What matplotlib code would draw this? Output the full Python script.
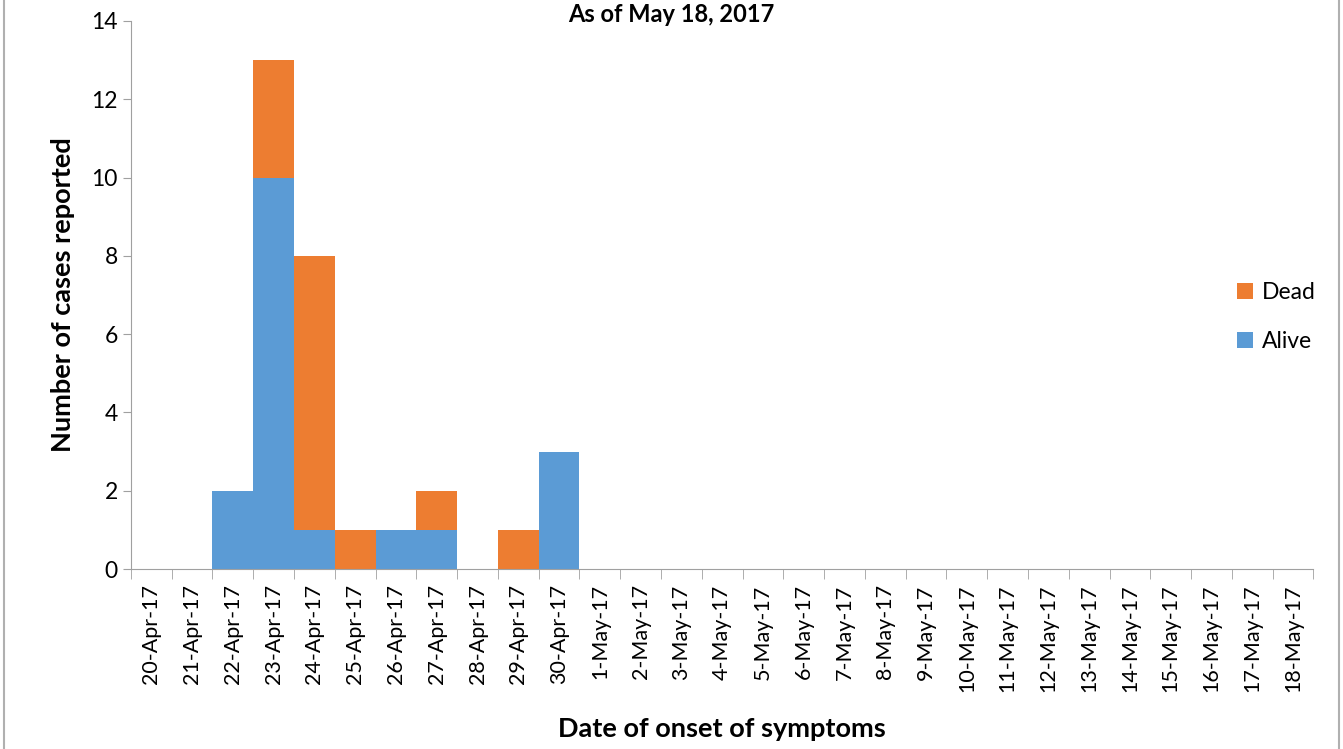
import matplotlib.pyplot as plt
import numpy as np
from matplotlib.patches import Rectangle

plt.rcParams['font.family'] = ['Lato', 'DejaVu Sans']

dates = ['20-Apr-17', '21-Apr-17', '22-Apr-17', '23-Apr-17', '24-Apr-17', '25-Apr-17',
         '26-Apr-17', '27-Apr-17', '28-Apr-17', '29-Apr-17', '30-Apr-17',
         '1-May-17', '2-May-17', '3-May-17', '4-May-17', '5-May-17', '6-May-17',
         '7-May-17', '8-May-17', '9-May-17', '10-May-17', '11-May-17', '12-May-17',
         '13-May-17', '14-May-17', '15-May-17', '16-May-17', '17-May-17', '18-May-17']
alive = [0, 0, 2, 10, 1, 0, 1, 1, 0, 0, 3] + [0] * 18
dead = [0, 0, 0, 3, 7, 1, 0, 1, 0, 1, 0] + [0] * 18

blue = '#5B9BD5'
orange = '#ED7D31'

fig = plt.figure(figsize=(13.43, 7.49), dpi=100)
ax = fig.add_axes([0.0975, 0.2403, 0.8805, 0.7317])

x = np.arange(len(dates))
ax.bar(x, alive, width=1.0, color=blue, linewidth=0, label='Alive')
ax.bar(x, dead, width=1.0, bottom=alive, color=orange, linewidth=0, label='Dead')

ax.set_xlim(-0.5, len(dates) - 0.5)
ax.set_ylim(0, 14)
ax.set_yticks(range(0, 15, 2))
ax.set_xticks(x)
ax.set_xticklabels(dates, rotation=90, fontsize=15.5)
ax.tick_params(axis='x', length=0, pad=11)
ax.set_xticks(np.arange(-0.5, len(dates), 1), minor=True)
ax.tick_params(axis='x', which='minor', length=7, color='#a0a0a0', direction='out')
ax.tick_params(axis='y', labelsize=16.5, length=6, color='#a0a0a0', direction='out')

for s in ['top', 'right']:
    ax.spines[s].set_visible(False)
for s in ['left', 'bottom']:
    ax.spines[s].set_color('#a0a0a0')

ax.set_ylabel('Number of cases reported', fontsize=19.5, fontweight='bold', labelpad=12)
ax.set_xlabel('Date of onset of symptoms', fontsize=19.5, fontweight='bold', labelpad=18)

fig.text(0.5, 0.981, 'As of May 18, 2017', ha='center', va='center',
         fontsize=17, fontweight='bold')

h, l = ax.get_legend_handles_labels()
ax.legend(h[::-1], l[::-1], loc='center left', bbox_to_anchor=(0.918, 0.46),
          frameon=False, fontsize=16.5, handlelength=0.7, handleheight=0.7,
          labelspacing=1.2, handletextpad=0.4)

fig.patches.append(Rectangle((0.003, -0.01), 0.994, 1.02, transform=fig.transFigure,
                             fill=False, edgecolor='#b0b0b0', linewidth=1.5))

fig.savefig('out.png', dpi=100)
